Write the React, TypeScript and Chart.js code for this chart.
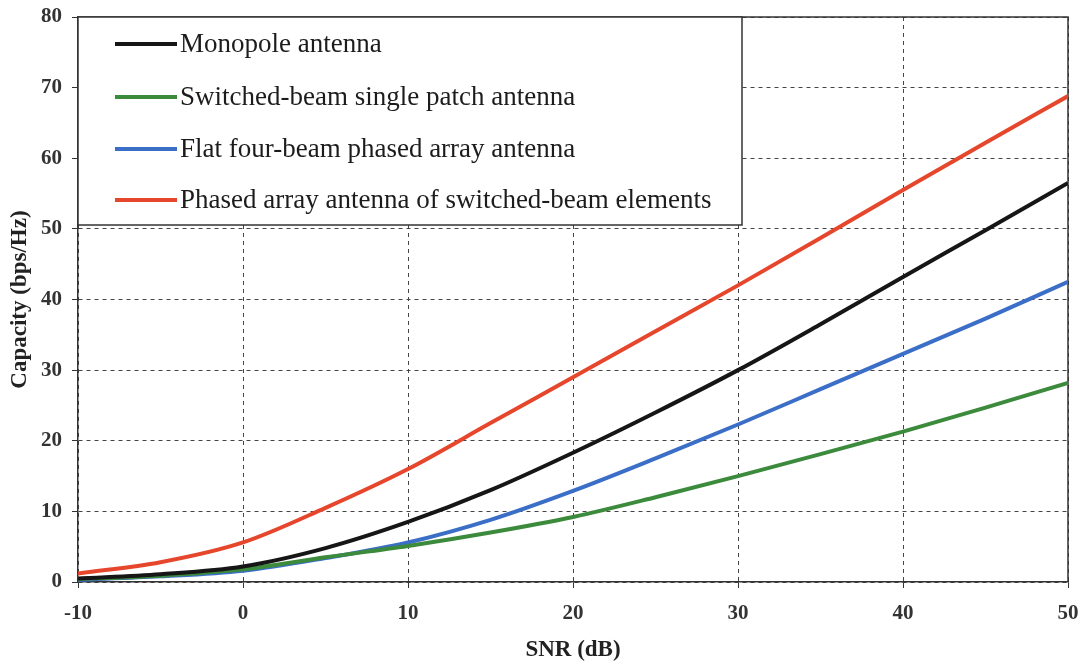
import React, { useEffect, useRef } from "react";
import { Chart, registerables } from "chart.js";

Chart.register(...registerables);

const snr = [-10, -5, 0, 5, 10, 15, 20, 25, 30, 35, 40, 45, 50];
const monopole = [0.5, 1.1, 2.2, 4.8, 8.5, 13, 18.3, 24, 30, 36.5, 43.2, 49.8, 56.5];
const singlePatch = [0.4, 0.9, 1.8, 3.5, 5.1, 7.0, 9.2, 12, 15, 18.1, 21.3, 24.7, 28.2];
const flatFourBeam = [0.3, 0.8, 1.6, 3.4, 5.6, 8.8, 12.9, 17.5, 22.3, 27.3, 32.3, 37.3, 42.5];
const phasedSwitched = [1.2, 2.8, 5.6, 10.5, 16, 22.5, 29, 35.5, 42, 48.7, 55.5, 62.2, 68.8];

const seriesLabels = [
  "Monopole antenna",
  "Switched-beam single patch antenna",
  "Flat four-beam phased array antenna",
  "Phased array antenna of switched-beam elements",
];
const seriesColors = ["#161616", "#3c8a3c", "#3b6ec6", "#e6462b"];
const seriesValues = [monopole, singlePatch, flatFourBeam, phasedSwitched];

const FONT = "'Liberation Serif', 'Times New Roman', serif";

const framePlugin = {
  id: "frame",
  beforeDatasetsDraw(chart: any) {
    const { ctx, chartArea } = chart;
    ctx.save();
    ctx.strokeStyle = "#333";
    ctx.lineWidth = 1.5;
    ctx.setLineDash([]);
    ctx.beginPath();
    ctx.moveTo(chartArea.left, chartArea.top);
    ctx.lineTo(chartArea.right, chartArea.top);
    ctx.lineTo(chartArea.right, chartArea.bottom);
    ctx.stroke();
    ctx.restore();
  },
};

const boxLegendPlugin = {
  id: "boxLegend",
  afterDatasetsDraw(chart: any) {
    const { ctx, chartArea } = chart;
    const x0 = chartArea.left;
    const y0 = chartArea.top;
    const w = 664;
    const h = 208;
    ctx.save();
    ctx.fillStyle = "#ffffff";
    ctx.fillRect(x0, y0, w, h);
    ctx.strokeStyle = "#333";
    ctx.lineWidth = 1.5;
    ctx.strokeRect(x0, y0, w, h);
    const rows = [27, 80, 132, 183];
    chart.data.datasets.forEach((ds: any, i: number) => {
      const y = y0 + rows[i];
      ctx.strokeStyle = ds.borderColor;
      ctx.lineWidth = 4;
      ctx.beginPath();
      ctx.moveTo(x0 + 37, y);
      ctx.lineTo(x0 + 99, y);
      ctx.stroke();
      ctx.fillStyle = "#1c1c1c";
      ctx.font = `27px ${FONT}`;
      ctx.textBaseline = "middle";
      ctx.textAlign = "left";
      ctx.fillText(ds.label, x0 + 102, y + 1);
    });
    ctx.restore();
  },
};

export default function App() {
  const canvasRef = useRef<HTMLCanvasElement | null>(null);

  useEffect(() => {
    if (!canvasRef.current) return;
    const datasets = seriesLabels.map((label, i) => ({
      label,
      data: snr.map((x, j) => ({ x, y: seriesValues[i][j] })),
      borderColor: seriesColors[i],
      backgroundColor: seriesColors[i],
      borderWidth: 4,
      pointRadius: 0,
      fill: false,
      cubicInterpolationMode: "monotone" as const,
    }));
    const tickFont = { family: FONT, size: 21, weight: "bold" as const };
    const chart = new Chart(canvasRef.current, {
      type: "line",
      data: { datasets },
      plugins: [framePlugin, boxLegendPlugin],
      options: {
        animation: false,
        responsive: false,
        maintainAspectRatio: false,
        layout: { padding: { top: 17, right: 20, left: 0, bottom: 0 } },
        plugins: {
          legend: { display: false },
          tooltip: { enabled: false },
        },
        scales: {
          x: {
            type: "linear",
            min: -10,
            max: 50,
            afterFit: (s: any) => {
              s.height = 86;
              s.paddingLeft = 0;
              s.paddingRight = 0;
            },
            ticks: {
              stepSize: 10,
              color: "#333",
              font: tickFont,
              padding: 13,
              maxRotation: 0,
            },
            grid: {
              color: "#444",
              lineWidth: 1,
              tickLength: 6,
              tickColor: "#333",
            },
            border: { display: true, color: "#333", width: 1.5, dash: [4, 4] },
            title: {
              display: true,
              text: "SNR (dB)",
              color: "#222",
              font: { family: FONT, size: 23, weight: "bold" },
              padding: { top: 0, bottom: 4 },
            },
          },
          y: {
            type: "linear",
            min: 0,
            max: 80,
            afterFit: (s: any) => {
              s.width = 78;
              s.paddingTop = 0;
              s.paddingBottom = 0;
            },
            ticks: {
              stepSize: 10,
              color: "#333",
              font: tickFont,
              padding: 10,
            },
            grid: {
              color: "#444",
              lineWidth: 1,
              tickLength: 6,
              tickColor: "#333",
            },
            border: { display: true, color: "#333", width: 1.5, dash: [4, 4] },
            title: {
              display: true,
              text: "Capacity (bps/Hz)",
              color: "#222",
              font: { family: FONT, size: 23, weight: "bold" },
              padding: { top: 6, bottom: 0 },
            },
          },
        },
      },
    });
    return () => chart.destroy();
  }, []);

  return (
    <div
      style={{
        position: "fixed",
        left: 0,
        top: 0,
        width: 1088,
        height: 668,
        background: "#ffffff",
      }}
    >
      <canvas ref={canvasRef} width={1088} height={668} />
    </div>
  );
}
